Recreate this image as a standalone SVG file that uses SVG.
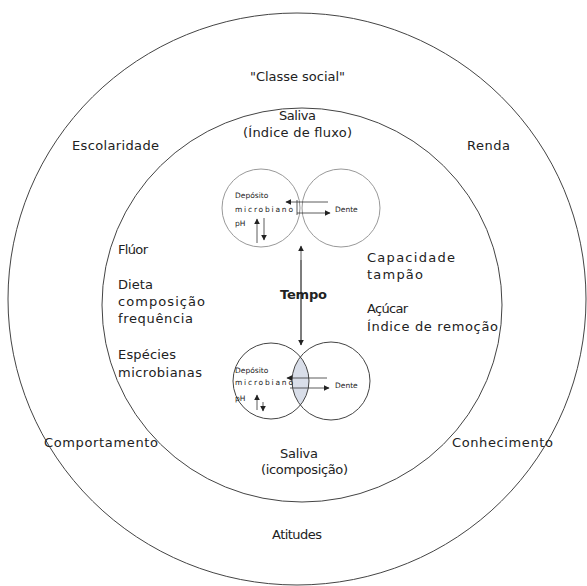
<svg xmlns="http://www.w3.org/2000/svg" width="587" height="586" viewBox="0 0 587 586">
<style>
.t{font-family:"DejaVu Sans","Liberation Sans",sans-serif;font-size:13px;fill:#222}
.s{font-family:"DejaVu Sans","Liberation Sans",sans-serif;font-size:7.5px;fill:#222}
.b{font-weight:bold}
.big{fill:none;stroke:#444;stroke-width:1}
.sm{fill:none;stroke:#999;stroke-width:1}
.ln{stroke:#333;stroke-width:0.8;fill:none}
</style>
<defs>
<marker id="ah" viewBox="0 0 10 10" refX="9" refY="5" markerWidth="6" markerHeight="6" orient="auto" markerUnits="userSpaceOnUse">
<path d="M0,0 L10,5 L0,10 z" fill="#222"/>
</marker>
</defs>
<rect width="587" height="586" fill="#fff"/>
<g id="outer"><ellipse class="big" cx="297" cy="299" rx="289" ry="286"/></g>
<g id="inner"><ellipse class="big" cx="302" cy="305" rx="200" ry="197"/></g>
<g id="top-pair">
<circle class="sm" cx="261" cy="208" r="39"/>
<circle class="sm" cx="341" cy="208" r="39"/>
<text class="s" x="235" y="198">Depósito</text>
<text class="s" x="235" y="212" textLength="58">microbiano</text>
<text class="s" x="235" y="226">pH</text>
<text class="s" x="335" y="212">Dente</text>
</g>
<g id="bottom-pair">
<path d="M300.4,356.9 A38,38 0 0 1 300.4,405.1 A39,39 0 0 1 300.4,356.9 z" fill="#d9dee9" stroke="none"/>
<circle class="big" cx="271" cy="381" r="38"/>
<circle class="big" cx="331" cy="381" r="39"/>
<text class="s" x="235" y="373">Depósito</text>
<text class="s" x="235" y="385" textLength="58">microbiano</text>
<text class="s" x="235" y="401">pH</text>
<text class="s" x="335" y="388">Dente</text>
</g>
<g id="connectors">
<line class="ln" x1="301" y1="345" x2="301" y2="246" marker-end="url(#ah)"/>
<line class="ln" x1="301" y1="260" x2="301" y2="345" marker-end="url(#ah)"/>
<line class="ln" x1="328" y1="202" x2="286" y2="202" marker-end="url(#ah)"/>
<line class="ln" x1="297" y1="213" x2="330" y2="213" marker-end="url(#ah)"/>
<line class="ln" x1="297" y1="200" x2="297" y2="215"/>
<line class="ln" x1="257" y1="243" x2="257" y2="219" marker-end="url(#ah)"/>
<line class="ln" x1="264" y1="218" x2="264" y2="240" marker-end="url(#ah)"/>
<line class="ln" x1="327" y1="378" x2="287" y2="378" marker-end="url(#ah)"/>
<line class="ln" x1="290" y1="388" x2="329" y2="388" marker-end="url(#ah)"/>
<line class="ln" x1="257" y1="410" x2="257" y2="395" marker-end="url(#ah)"/>
<line class="ln" x1="263" y1="402" x2="263" y2="411" marker-end="url(#ah)"/>
</g>
<g id="labels">
<text class="t" x="250" y="81" textLength="95">"Classe social"</text>
<text class="t" x="279" y="120" textLength="37">Saliva</text>
<text class="t" x="243" y="137" textLength="109">(Índice de fluxo)</text>
<text class="t" x="72" y="150" textLength="87">Escolaridade</text>
<text class="t" x="467" y="150" textLength="43">Renda</text>
<text class="t" x="118" y="254" textLength="30">Flúor</text>
<text class="t" x="118" y="289" textLength="35">Dieta</text>
<text class="t" x="118" y="306" textLength="87">composição</text>
<text class="t" x="118" y="323" textLength="75">frequência</text>
<text class="t" x="118" y="359" textLength="58">Espécies</text>
<text class="t" x="118" y="377" textLength="84">microbianas</text>
<text class="t" x="367" y="262" textLength="88">Capacidade</text>
<text class="t" x="367" y="279" textLength="56">tampão</text>
<text class="t" x="367" y="313" textLength="41">Açúcar</text>
<text class="t" x="367" y="331" textLength="131">Índice de remoção</text>
<text class="t b" x="280" y="299" textLength="47">Tempo</text>
<text class="t" x="44" y="447" textLength="114">Comportamento</text>
<text class="t" x="452" y="447" textLength="101">Conhecimento</text>
<text class="t" x="280" y="458" textLength="38">Saliva</text>
<text class="t" x="261" y="474" textLength="87">(icomposição)</text>
<text class="t" x="272" y="539" textLength="50">Atitudes</text>
</g>
</svg>
